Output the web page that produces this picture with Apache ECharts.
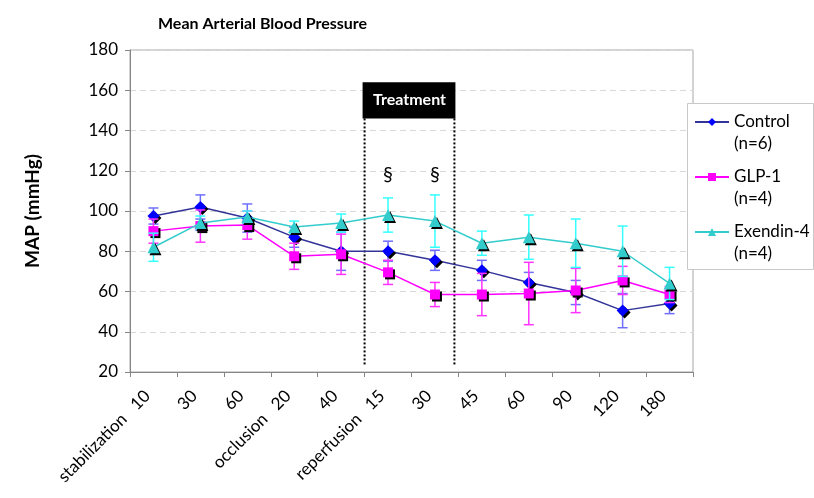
<!DOCTYPE html>
<html>
<head>
<meta charset="utf-8">
<title>Mean Arterial Blood Pressure</title>
<script src="https://cdn.jsdelivr.net/npm/echarts@6/dist/echarts.min.js"></script>
<style>
  html, body { margin: 0; padding: 0; background: #fff; }
  #main { width: 814px; height: 498px; }
</style>
</head>
<body>
<div id="main"></div>
<script>
// categories (time points, min)
const categories = ['stabilization   10', '30', '60', 'occlusion   20', '40', 'reperfusion   15', '30', '45', '60', '90', '120', '180']

// mean MAP values and error (SEM) per group
const controlMean = [97.5, 102, 96.5, 87, 80, 80, 75.5, 70.5, 64.5, 59.5, 50.5, 54]
const controlErr = [4, 6, 7, 5, 9.5, 5, 5, 5, 5, 6, 8.5, 5]
const glpMean = [90, 92.5, 93, 77.5, 78.5, 69.5, 58.5, 58.5, 59, 60.5, 65.5, 58.5]
const glpErr = [6, 8, 7, 6.5, 10, 6, 6, 10.5, 15.5, 11, 7, 4]
const exMean = [82, 94, 97, 92, 94, 98, 95, 84, 87, 84, 80, 64]
const exErr = [7, 3.5, 3, 3, 4.5, 8.5, 13, 6, 11, 12, 12.5, 8]

// treatment window (first/last category index) and significance marks
const treatment = [[5, 6]]
const sigIdx = [5, 6]

const FONT = 'Lato'

function errorBars(means, errs, color, z) {
  return {
    type: 'custom',
    z: z,
    silent: true,
    encode: { x: 0, y: [1, 2] },
    data: means.map((m, i) => [i, m - errs[i], m + errs[i]]),
    renderItem: function (params, api) {
      const lo = api.coord([api.value(0), api.value(1)])
      const hi = api.coord([api.value(0), api.value(2)])
      const half = 5
      const st = { stroke: color, lineWidth: 1.5 }
      return {
        type: 'group',
        children: [
          { type: 'line', shape: { x1: lo[0], y1: lo[1], x2: hi[0], y2: hi[1] }, style: st },
          { type: 'line', shape: { x1: hi[0] - half, y1: hi[1], x2: hi[0] + half, y2: hi[1] }, style: st },
          { type: 'line', shape: { x1: lo[0] - half, y1: lo[1], x2: lo[0] + half, y2: lo[1] }, style: st }
        ]
      }
    }
  }
}

const markShadow = { shadowColor: '#000', shadowOffsetX: 2, shadowOffsetY: 2, shadowBlur: 0 }

const chart = echarts.init(document.getElementById('main'))
chart.setOption({
  animation: false,
  backgroundColor: '#fff',
  title: {
    text: 'Mean Arterial Blood Pressure',
    left: 153,
    top: 11,
    textStyle: { fontFamily: FONT, fontWeight: 'bold', fontSize: 16, color: '#000' }
  },
  grid: { left: 130, right: 121, top: 50, bottom: 126, show: true, borderColor: '#a6a6a6', borderWidth: 1 },
  // legend frame
  graphic: [{
    type: 'rect',
    z: 5,
    shape: { x: 687.5, y: 103.5, width: 126, height: 166 },
    style: { fill: '#fff', stroke: '#c8c8c8', lineWidth: 1 }
  }],
  legend: {
    orient: 'vertical',
    z: 6,
    left: 694,
    top: 89,
    padding: 0,
    itemWidth: 34,
    itemHeight: 10,
    itemGap: -11,
    data: ['Control\n(n=6)', 'GLP-1\n(n=4)', 'Exendin-4\n(n=4)'],
    // blank first line keeps the group name level with the icon
    formatter: function (name) { return ' \n' + name },
    textStyle: { fontFamily: FONT, fontSize: 17, color: '#000', lineHeight: 22 }
  },
  xAxis: {
    type: 'category',
    data: categories,
    boundaryGap: true,
    axisLine: { lineStyle: { color: '#868686' } },
    axisTick: { show: true, length: 5, lineStyle: { color: '#868686' } },
    axisLabel: {
      rotate: 45,
      margin: 15,
      interval: 0,
      fontFamily: FONT,
      fontSize: 17,
      color: '#000',
      // trailing no-break spaces pull the rotated text back from the tick
      formatter: function (v) { return v + '\u00a0\u00a0' }
    }
  },
  yAxis: {
    type: 'value',
    min: 20,
    max: 180,
    interval: 20,
    name: 'MAP (mmHg)',
    nameLocation: 'middle',
    nameGap: 88,
    nameTextStyle: { fontFamily: FONT, fontWeight: 'bold', fontSize: 19, color: '#000' },
    axisLine: { show: true, lineStyle: { color: '#868686' } },
    axisTick: { show: true, length: 5, lineStyle: { color: '#868686' } },
    axisLabel: { margin: 12, fontFamily: FONT, fontSize: 17, color: '#000' },
    splitLine: { lineStyle: { color: '#d9d9d9', type: [6, 4] } }
  },
  series: [
    // treatment box, dotted borders and § marks
    {
      type: 'custom',
      z: 1,
      silent: true,
      data: treatment,
      renderItem: function (params, api) {
        const band = api.size([1, 0])[0]
        const x0 = api.coord([api.value(0), 20])[0] - band / 2
        const x1 = api.coord([api.value(1), 20])[0] + band / 2
        const yTop = api.coord([0, 164])[1]
        const yBox = api.coord([0, 146])[1]
        const yEnd = api.coord([0, 23])[1]
        const dot = { stroke: '#000', lineWidth: 2, lineDash: [2, 2] }
        const kids = [
          { type: 'rect', shape: { x: x0 - 2, y: yTop, width: x1 - x0 - 1, height: yBox - yTop }, style: { fill: '#000' } },
          { type: 'text', style: { x: (x0 + x1) / 2 - 2, y: (yTop + yBox) / 2, text: 'Treatment', fill: '#fff', font: 'bold 16px ' + FONT, align: 'center', verticalAlign: 'middle' } },
          { type: 'line', shape: { x1: x0, y1: yBox, x2: x0, y2: yEnd }, style: dot },
          { type: 'line', shape: { x1: x1 - 4, y1: yBox, x2: x1 - 4, y2: yEnd }, style: dot }
        ]
        sigIdx.forEach(function (i) {
          const p = api.coord([i, 118])
          kids.push({ type: 'text', style: { x: p[0], y: p[1], text: '§', fill: '#000', font: '20px ' + FONT, align: 'center', verticalAlign: 'middle' } })
        })
        return { type: 'group', children: kids }
      }
    },
    errorBars(controlMean, controlErr, '#6f6fff', 2),
    {
      name: 'Control\n(n=6)',
      type: 'line',
      z: 3,
      data: controlMean,
      symbol: 'diamond',
      symbolSize: 12,
      lineStyle: { color: '#333399', width: 1.5 },
      itemStyle: Object.assign({ color: '#0000ff' }, markShadow)
    },
    errorBars(glpMean, glpErr, '#ff33ff', 4),
    {
      name: 'GLP-1\n(n=4)',
      type: 'line',
      z: 5,
      data: glpMean,
      symbol: 'rect',
      symbolSize: 10,
      lineStyle: { color: '#ff00ff', width: 1.5 },
      itemStyle: Object.assign({ color: '#ff00ff' }, markShadow)
    },
    errorBars(exMean, exErr, '#33ffff', 6),
    {
      name: 'Exendin-4\n(n=4)',
      type: 'line',
      z: 7,
      data: exMean,
      symbol: 'triangle',
      symbolSize: 12,
      lineStyle: { color: '#33cccc', width: 1.5 },
      itemStyle: Object.assign({ color: '#33cccc' }, markShadow)
    }
  ]
})
</script>
</body>
</html>
